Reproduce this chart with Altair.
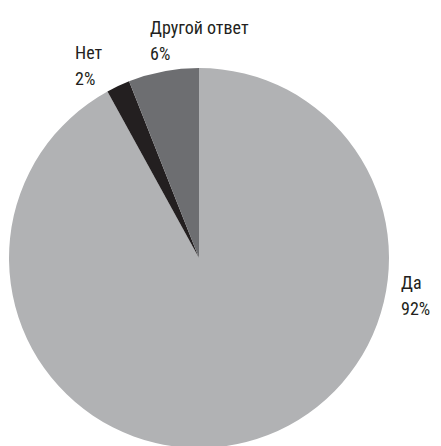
import altair as alt
import pandas as pd

categories = ["Да", "Нет", "Другой ответ"]
values = [92, 2, 6]
labels = ["92%", "2%", "6%"]
colors = ["#b1b2b4", "#231f20", "#6d6e71"]

df = pd.DataFrame({"cat": categories, "val": values, "idx": list(range(len(categories)))})

FONT = "Roboto Condensed, Liberation Sans Narrow, Roboto, sans-serif"

pie = alt.Chart(df).mark_arc(outerRadius=190).encode(
    theta=alt.Theta("val:Q", stack=True),
    color=alt.Color("cat:N", scale=alt.Scale(domain=categories, range=colors), legend=None),
    order=alt.Order("idx:Q"),
    x=alt.value(191),
    y=alt.value(250),
)

def label(i, px, py):
    d = pd.DataFrame({"t": [[categories[i], labels[i]]]})
    return alt.Chart(d).mark_text(
        align="left", baseline="alphabetic", fontSize=18, font=FONT,
        color="#231f20", lineHeight=26,
    ).encode(text="t", x=alt.value(px), y=alt.value(py))

chart = alt.layer(
    pie,
    label(0, 393, 281),
    label(1, 67, 51),
    label(2, 142, 26),
).properties(
    width=425, height=438, padding=0,
    autosize=alt.AutoSizeParams(type="none"),
).configure_view(stroke=None)

chart.save("out.html", embed_options={"renderer": "svg", "actions": False})
